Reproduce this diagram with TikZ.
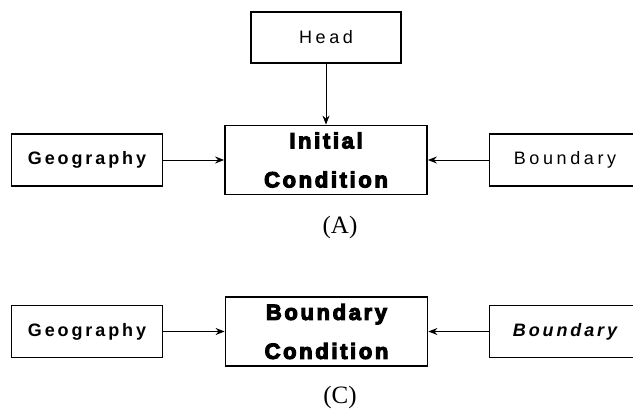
\documentclass[tikz,border=0pt]{standalone}
\usepackage{fontspec}
\setmainfont{Liberation Serif}
\newfontfamily\boxfont{Liberation Sans}[LetterSpace=20]
\newfontfamily\boxboldfont{Liberation Sans}[LetterSpace=16]
\newfontfamily\heavyfont{Liberation Sans}[LetterSpace=12,BoldFeatures={FakeBold=5}]
\usetikzlibrary{arrows.meta}
\tikzset{
	box/.style={draw, line width=1.2pt, inner sep=0pt, align=center,
		minimum width=151pt, minimum height=52pt},
	mainbox/.style={draw, line width=1.8pt, inner sep=0pt, align=center,
		minimum width=202pt, minimum height=69pt,
		font={\heavyfont\bfseries\fontsize{22}{39}\selectfont}},
	plain/.style={font={\boxfont\fontsize{18}{22}\selectfont}},
	heavy/.style={font={\boxboldfont\bfseries\fontsize{18}{22}\selectfont}},
	heavyit/.style={font={\boxboldfont\bfseries\itshape\fontsize{18}{22}\selectfont}},
	feed/.style={-{Stealth[length=9pt,width=7pt]}, line width=1pt},
	caption/.style={font={\fontsize{25}{29}\selectfont}},
}
\begin{document}
\begin{tikzpicture}[x=1pt,y=-1pt]
	\useasboundingbox (0,0) rectangle (633,410);
	% initial condition
	\node[box,plain,minimum width=150pt,minimum height=51pt] (head) at (326,37.5) {Head};
	\node[mainbox] (init) at (326,160) {Initial\\Condition};
	\node[box,heavy] (geoA) at (87,160) {Geography};
	\node[box,plain] (bndA) at (565,160) {Boundary};
	\draw[feed] (head) -- (init);
	\draw[feed] (geoA) -- (init);
	\draw[feed] (bndA) -- (init);
	\node[caption] (labA) at (340,227) {(A)};
	% boundary condition
	\node[mainbox] (bc) at (326.5,331.5) {Boundary\\Condition};
	\node[box,heavy] (geoC) at (87,331.5) {Geography};
	\node[box,heavyit] (bndC) at (565,331.5) {Boundary};
	\draw[feed] (geoC) -- (bc);
	\draw[feed] (bndC) -- (bc);
	\node[caption] (labC) at (340,397) {(C)};
\end{tikzpicture}
\end{document}
